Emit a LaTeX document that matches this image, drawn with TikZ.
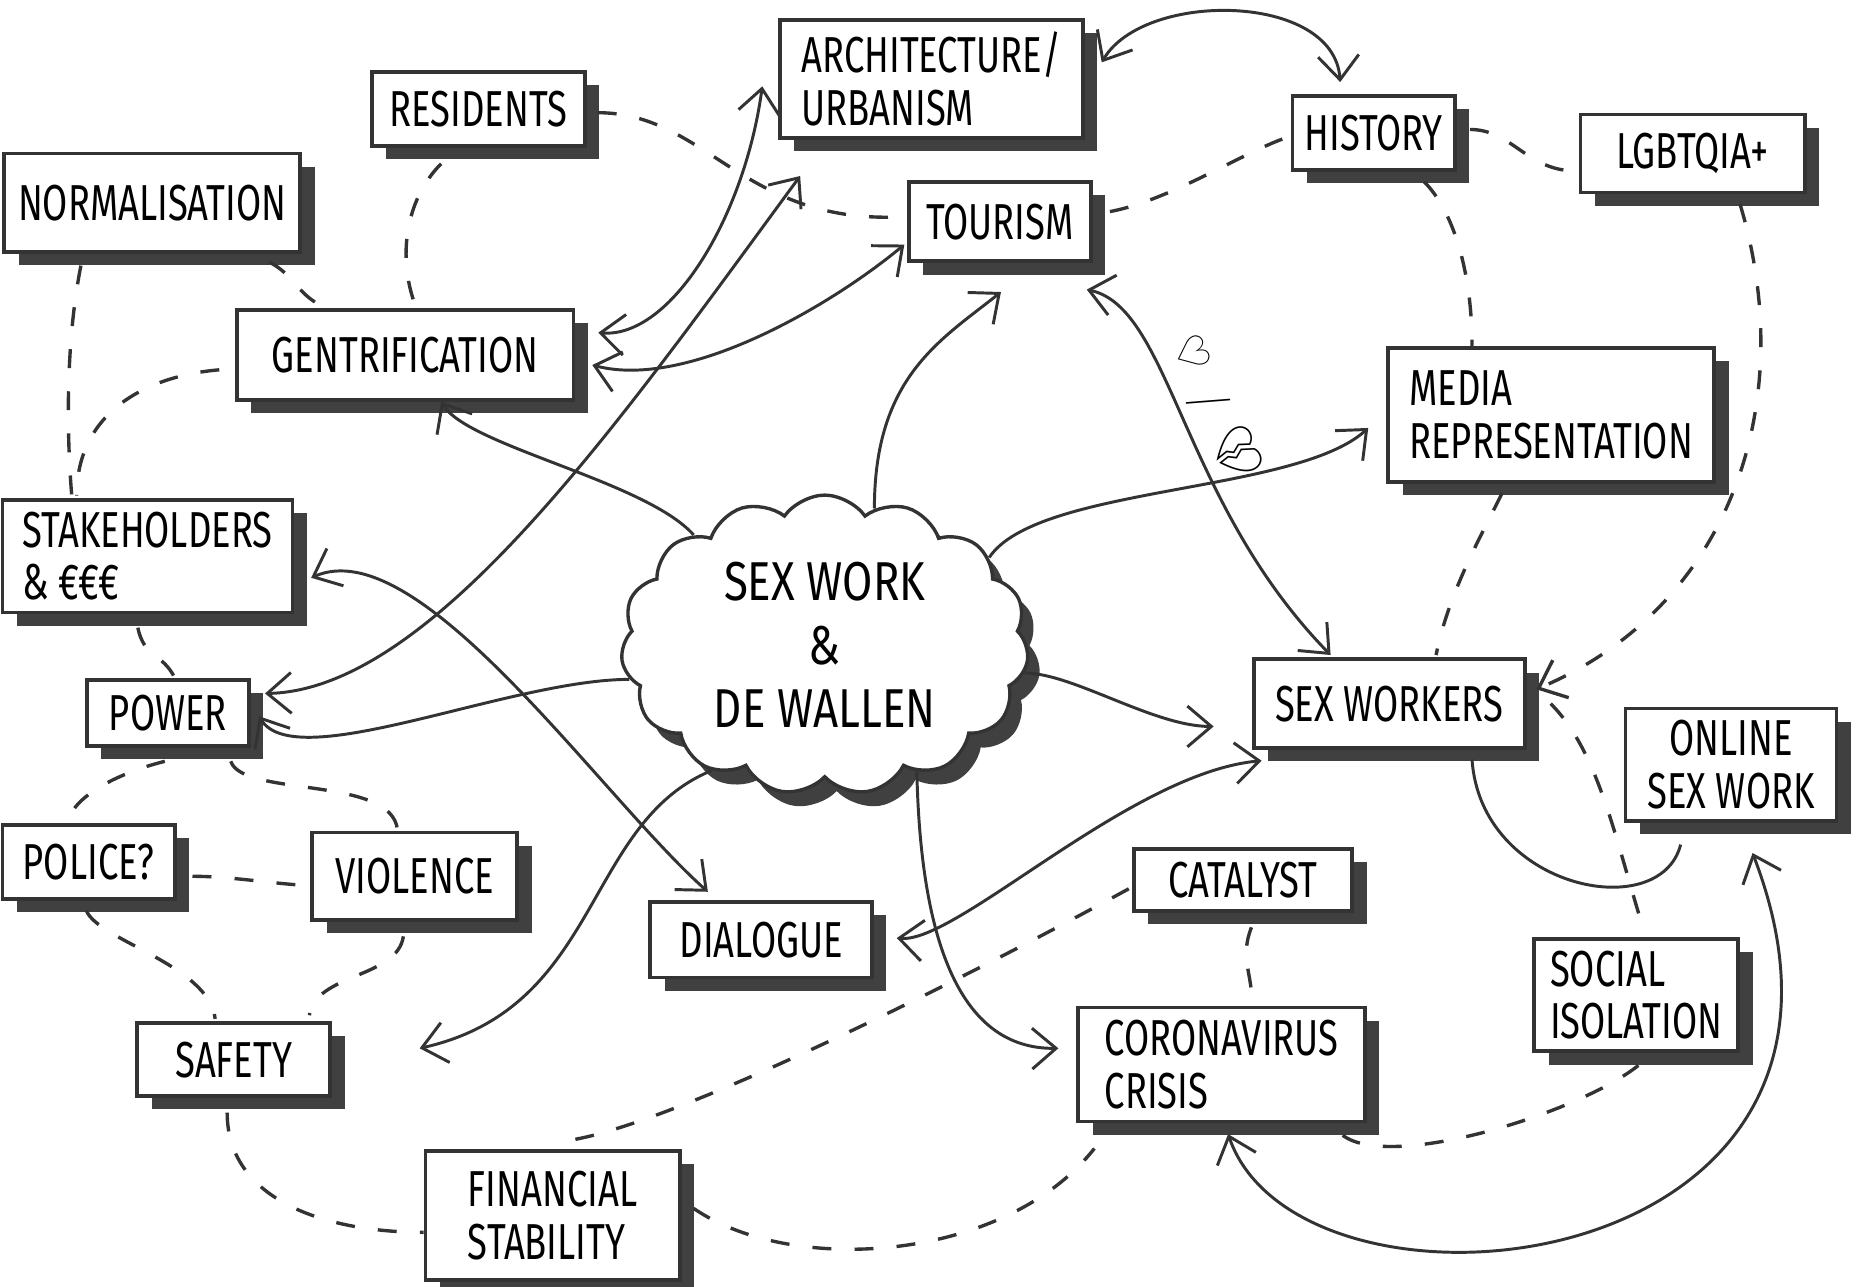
\documentclass[tikz,border=0pt]{standalone}
\usepackage{fontspec}
\usepackage{tikz}
\usetikzlibrary{shapes.symbols, shadows, arrows.meta}
\newfontfamily\handfont[FakeStretch=0.72]{Fira Sans}
\newfontfamily\cloudfont[FakeStretch=0.8]{Fira Sans}
\newfontfamily\heartfont{DejaVu Sans}
\newfontfamily\emojifont{Noto Emoji}
\definecolor{ink}{HTML}{333333}
\definecolor{shade}{HTML}{404040}

\begin{document}
\begin{tikzpicture}[
  topic/.style={draw=ink, line width=0.9pt, fill=white, align=left, inner sep=0.1cm,
    font={\handfont\fontsize{12pt}{12.5pt}\selectfont},
    drop shadow={shadow xshift=0.12cm, shadow yshift=-0.11cm, fill=shade, opacity=1}},
  hub/.style={cloud, cloud puffs=15, cloud puff arc=110, aspect=1.45, draw=ink, line width=0.8pt,
    fill=white, align=center, inner sep=0, minimum width=3.4cm, minimum height=2.5cm,
    font={\cloudfont\fontsize{13pt}{15pt}\selectfont},
    drop shadow={shadow xshift=0.1cm, shadow yshift=-0.12cm, fill=shade, opacity=1}},
  link/.style={draw=ink, line width=0.7pt},
  tie/.style={draw=ink, line width=0.8pt, dash pattern=on 4.5pt off 5.5pt},
  >={Straight Barb[length=2mm, width=3.4mm]}
]
\path[use as bounding box, fill=white] (0,0) rectangle (15.6,-10.736);

%the cloud
\node[hub] (cloud) at (6.88,-5.38) {SEX WORK\\\&\\DE WALLEN};

%the topics
\node[topic, minimum width=2.53cm, minimum height=0.88cm] (arch) at (7.77,-0.66) {ARCHITECTURE/\\URBANISM};
\node[topic, minimum width=1.32cm, minimum height=0.62cm] (history) at (11.46,-1.11) {HISTORY};
\node[topic, minimum width=1.87cm, minimum height=0.65cm] (lgbt) at (14.12,-1.28) {LGBTQIA+};
\node[topic, minimum width=1.52cm, minimum height=0.66cm] (tourism) at (8.34,-1.85) {TOURISM};
\node[topic, minimum width=1.78cm, minimum height=0.62cm] (residents) at (3.99,-0.91) {RESIDENTS};
\node[topic, minimum width=2.47cm, minimum height=0.82cm] (normal) at (1.27,-1.69) {NORMALISATION};
\node[topic, minimum width=2.81cm, minimum height=0.75cm] (gentri) at (3.38,-2.96) {GENTRIFICATION};
\node[topic, minimum width=2.42cm, minimum height=0.80cm] (stake) at (1.23,-4.64) {STAKEHOLDERS\\\& €€€};
\node[topic, minimum width=2.72cm, minimum height=1.12cm] (media) at (12.94,-3.46) {MEDIA\\REPRESENTATION};
\node[topic, minimum width=2.26cm, minimum height=0.74cm] (sexw) at (11.59,-5.87) {SEX WORKERS};
\node[topic, minimum width=1.76cm, minimum height=0.75cm, align=center] (online) at (14.44,-6.38) {ONLINE\\SEX WORK};
\node[topic, minimum width=1.35cm, minimum height=0.55cm] (power) at (1.40,-5.95) {POWER};
\node[topic, minimum width=1.44cm, minimum height=0.62cm] (police) at (0.74,-7.19) {POLICE?};
\node[topic, minimum width=1.71cm, minimum height=0.73cm] (violence) at (3.46,-7.31) {VIOLENCE};
\node[topic, minimum width=1.85cm, minimum height=0.63cm] (dialogue) at (6.35,-7.84) {DIALOGUE};
\node[topic, minimum width=1.61cm, minimum height=0.61cm] (safety) at (1.95,-8.84) {SAFETY};
\node[topic, minimum width=2.12cm, minimum height=1.08cm] (finance) at (4.61,-10.14) {FINANCIAL\\STABILITY};
\node[topic, minimum width=1.82cm, minimum height=0.52cm] (catalyst) at (10.37,-7.34) {CATALYST};
\node[topic, minimum width=2.39cm, minimum height=0.95cm] (corona) at (10.19,-8.88) {CORONAVIRUS\\CRISIS};
\node[topic, minimum width=1.70cm, minimum height=0.90cm] (social) at (13.65,-8.30) {SOCIAL\\ISOLATION};

%solid arrows
\draw[link, ->] (cloud.70) .. controls +(0,1.1) and +(-0.5,-0.4) .. ([shift={(0.01,-0.24)}]tourism.south);
\draw[link, <->] ([shift={(0.14,0.14)}]arch.east) .. controls +(0.35,0.6) and +(-0.05,0.75) .. ([shift={(-0.28,0.1)}]history.north);
\draw[link, <->] ([shift={(-0.05,-0.22)}]tourism.south east) .. controls +(0.7,-0.15) and +(-1.25,1.28) .. ([shift={(-0.49,0.02)}]sexw.north)
  node[pos=0.5, sloped, above=2pt, inner sep=0, font=\fontsize{10pt}{10pt}\selectfont] {{\heartfont\bfseries ♡}\enspace/\enspace{\emojifont 💔}};
\draw[link, ->] (cloud.140) .. controls +(-0.4,0.45) and +(0.22,-0.37) .. ([shift={(0.3,0)}]gentri.south);
\draw[link, <->] ([shift={(0.12,0.165)}]power.east) .. controls +(1.41,0.03) and +(-1.47,-2.0) .. ([shift={(-1.095,-0.3)}]arch.south);
\draw[link, <->] ([shift={(0.19,0.185)}]gentri.east) .. controls +(0.6,-0.05) and +(-0.15,-1.1) .. ([shift={(-0.13,-0.06)}]arch.west);
\draw[link, <->] ([shift={(0.14,-0.085)}]gentri.east) .. controls +(0.8,-0.21) and +(-0.6,-0.5) .. ([shift={(-0.02,-0.19)}]tourism.west);
\draw[link, <->] ([shift={(0.14,-0.18)}]stake.east) .. controls +(0.9,0.4) and +(-0.9,0.8) .. ([shift={(-0.445,0.07)}]dialogue.north);
\draw[link, ->] (cloud.190) .. controls +(-1.0,0) and +(0.3,-0.5) .. ([shift={(0.07,-0.025)}]power.east);
\draw[link, ->] (cloud.228) .. controls +(-1.07,-0.44) and +(1.52,0.34) .. ([shift={(0.73,0.095)}]safety.east);
\draw[link, ->] (cloud.306) .. controls +(0.03,-1.37) and +(-0.84,-0.01) .. ([shift={(-0.15,0.135)}]corona.west);
\draw[link, ->] (cloud.352) .. controls +(0.4,0) and +(-0.5,0) .. ([shift={(-0.32,-0.19)}]sexw.west);
\draw[link, ->] (cloud.28) .. controls +(0.4,0.6) and +(-0.6,-0.55) .. ([shift={(-0.15,-0.11)}]media.west);
\draw[link, <->] ([shift={(0.19,0.015)}]dialogue.east) .. controls +(0.5,-0.05) and +(-1.1,-0.1) .. ([shift={(0.08,-0.09)}]sexw.south west);
\draw[link] ([shift={(0.69,-0.08)}]sexw.south) .. controls +(0.07,-1.08) and +(-0.17,-0.67) .. ([shift={(-0.42,-0.18)}]online.south);
\draw[link, <->] ([shift={(0.055,-0.09)}]corona.south) .. controls +(0.6,-1.75) and +(1.38,-3.6) .. ([shift={(0.18,-0.25)}]online.south);

%dashed links
\draw[tie] ([shift={(0.09,-0.03)}]residents.east) .. controls +(0.9,0) and +(-1.3,-0.05) .. ([shift={(-0.07,0.04)}]tourism.west);
\draw[tie] ([shift={(-0.31,-0.13)}]residents.south) .. controls +(-0.3,-0.3) and +(-0.15,0.4) .. ([shift={(0.085,0.02)}]gentri.north);
\draw[tie] ([shift={(0.975,-0.07)}]normal.south) .. controls +(0.2,-0.1) and +(-0.2,0.1) .. ([shift={(0.72,0.02)}]gentri.north west);
\draw[tie] ([shift={(-0.595,-0.1)}]normal.south) .. controls +(-0.12,-0.6) and +(-0.05,0.6) .. ([shift={(-0.63,0)}]stake.north);
\draw[tie] ([shift={(-0.13,-0.125)}]gentri.west) .. controls +(-0.6,-0.05) and +(0,0.7) .. ([shift={(-0.59,0.02)}]stake.north);
\draw[tie] ([shift={(-0.08,-0.11)}]stake.south) .. controls +(0.05,-0.25) and +(-0.1,0.2) .. ([shift={(0.055,0.01)}]power.north);
\draw[tie] ([shift={(-0.025,-0.11)}]power.south) .. controls +(-0.4,-0.1) and +(0.05,0.2) .. ([shift={(-0.17,0.02)}]police.north);
\draw[tie] ([shift={(0.525,-0.11)}]power.south) .. controls +(0.1,-0.3) and +(-0.05,0.45) .. ([shift={(-0.145,0.01)}]violence.north);
\draw[tie] ([shift={(0.13,-0.12)}]police.east) .. controls +(0.3,0) and +(-0.3,0.02) .. ([shift={(-0.06,-0.075)}]violence.west);
\draw[tie] ([shift={(-0.02,-0.08)}]police.south) .. controls +(0.1,-0.25) and +(-0.05,0.45) .. ([shift={(-0.155,0.02)}]safety.north);
\draw[tie] ([shift={(-0.095,-0.12)}]violence.south) .. controls +(-0.05,-0.35) and +(0.05,0.35) .. ([shift={(-0.19,0.05)}]safety.north east);
\draw[tie] ([shift={(-0.055,-0.12)}]safety.south) .. controls +(0,-0.74) and +(-0.8,0) .. ([shift={(0,-0.14)}]finance.west);
\draw[tie] ([shift={(0.1,0.06)}]finance.east) .. controls +(0.83,-0.57) and +(-0.74,-0.94) .. ([shift={(0.15,-0.21)}]corona.south west);
\draw[tie] ([shift={(0.19,0.08)}]finance.north) .. controls +(0.9,0.17) and +(-1.44,-0.79) .. ([shift={(-0.02,-0.07)}]catalyst.west);
\draw[tie] ([shift={(0.07,-0.12)}]catalyst.south) .. controls +(-0.1,-0.25) and +(0,0.25) .. ([shift={(0.255,0.02)}]corona.north);
\draw[tie] ([shift={(-0.2,-0.1)}]corona.south east) .. controls +(0.4,-0.3) and +(-0.5,-0.4) .. ([shift={(0.02,-0.1)}]social.south);
\draw[tie] ([shift={(0.2,0)}]sexw.east) .. controls +(0.4,-0.4) and +(-0.25,0.8) .. ([shift={(0.07,0.03)}]social.north);
\draw[tie, ->] ([shift={(0.395,-0.08)}]lgbt.south) .. controls +(0.49,-1.62) and +(1.65,0.7) .. ([shift={(0.08,0.12)}]sexw.east);
\draw[tie] ([shift={(0.42,-0.08)}]history.south) .. controls +(0.25,-0.25) and +(0,0.6) .. ([shift={(-0.66,0)}]media.north);
\draw[tie] ([shift={(-0.41,-0.08)}]media.south) .. controls +(-0.2,-0.4) and +(0.1,0.5) .. ([shift={(0.39,0.02)}]sexw.north);
\draw[tie] ([shift={(0.11,0.03)}]history.east) .. controls +(0.35,0) and +(-0.4,0) .. ([shift={(-0.03,-0.145)}]lgbt.west);
\draw[tie] ([shift={(-0.07,-0.05)}]history.west) .. controls +(-0.4,-0.15) and +(0.5,0.05) .. ([shift={(0.04,0.07)}]tourism.east);
\end{tikzpicture}
\end{document}
